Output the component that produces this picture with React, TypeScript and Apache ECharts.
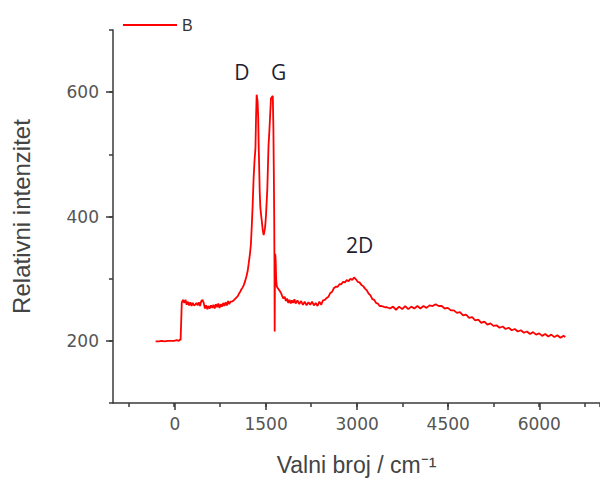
import React, { useEffect, useRef } from "react";
import * as echarts from "echarts";

// Raman spectrum
const wavenumber = [
  -300, -250, -200, -150, -100, -50, 0, 50, 80, 100, 110,
  120, 130, 150, 170, 190, 210, 230, 250, 270, 290, 310, 330, 350, 370, 390, 410, 430, 450, 470, 490,
  510, 530, 550, 570, 590, 610, 630, 650, 670, 690, 710, 730, 750, 770, 790, 810, 830, 850, 870, 890,
  910, 930, 950, 970, 990, 1010, 1030, 1050, 1070, 1090, 1110, 1130, 1150, 1170, 1190, 1210, 1230, 1250,
  1265, 1280, 1295, 1310, 1325, 1340, 1350, 1360, 1368, 1375, 1385, 1392, 1400, 1410, 1420, 1430, 1445,
  1460, 1475, 1485, 1495, 1505, 1515, 1525, 1535, 1545, 1555, 1565, 1580, 1595, 1610, 1625, 1635, 1642,
  1648, 1652, 1656, 1660, 1665, 1672, 1680, 1690, 1705, 1720, 1740, 1760, 1780, 1800, 1820, 1840, 1860,
  1880, 1900, 1920, 1940, 1960, 1980, 2000, 2030, 2060, 2090, 2120, 2150, 2180, 2210, 2240, 2270, 2300,
  2330, 2360, 2390, 2420, 2450, 2480, 2510, 2540, 2570, 2600, 2630, 2660, 2690, 2720, 2750, 2780, 2810,
  2840, 2870, 2900, 2930, 2960, 2990, 3020, 3050, 3080, 3110, 3140, 3170, 3200, 3230, 3260, 3290, 3320,
  3350, 3380, 3410, 3440, 3470, 3500, 3550, 3600, 3650, 3700, 3750, 3800, 3850, 3900, 3950, 4000, 4050,
  4100, 4150, 4200, 4250, 4300, 4350, 4400, 4450, 4500, 4550, 4600, 4650, 4700, 4750, 4800, 4850, 4900,
  4950, 5000, 5050, 5100, 5150, 5200, 5250, 5300, 5350, 5400, 5450, 5500, 5550, 5600, 5650, 5700, 5750,
  5800, 5850, 5900, 5950, 6000, 6050, 6100, 6150, 6200, 6250, 6300, 6350, 6400, 6430,
];
const intensity = [
  199, 199, 200, 199, 200, 200, 200, 201, 200, 202, 201,
  230, 262, 266, 261, 266, 258, 263, 257, 262, 256, 261, 257, 258, 261, 257, 262, 256, 264, 266, 261,
  252, 257, 251, 256, 252, 257, 253, 258, 252, 259, 254, 260, 253, 259, 255, 261, 256, 262, 257, 264,
  259, 263, 263, 264, 266, 268, 270, 272, 276, 279, 283, 286, 290, 296, 303, 311, 325, 340,
  355, 385, 420, 462, 490, 510, 560, 596, 590, 585, 560, 520, 485, 440, 415, 405, 392,
  378, 370, 375, 380, 390, 405, 425, 445, 480, 515, 530, 560, 590, 592, 594, 540, 470,
  400, 330, 215, 300, 340, 330, 300, 288, 285, 283, 280, 277, 272, 268, 271, 264, 268,
  261, 266, 260, 265, 261, 267, 260, 265, 259, 264, 258, 263, 257, 262, 258, 263, 257,
  261, 256, 263, 258, 265, 266, 269, 271, 277, 279, 285, 287, 287, 291, 291, 295, 294,
  298, 296, 300, 298, 302, 299, 295, 294, 290, 288, 284, 281, 276, 273, 267, 266, 261,
  260, 256, 256, 255, 254, 254, 252, 255, 250, 255, 251, 256, 251, 255, 252, 256, 252,
  256, 253, 257, 256, 259, 256, 256, 252, 253, 249, 249, 245, 246, 241, 242, 237, 238,
  233, 234, 229, 231, 226, 228, 224, 225, 221, 223, 219, 221, 217, 219, 215, 217, 213,
  215, 211, 214, 210, 212, 208, 211, 207, 210, 206, 209, 205, 208, 206,
];

const seriesName = "B";
const xTickLabels = [0, 1500, 3000, 4500, 6000];
const yTickLabels = [200, 400, 600];

const peakLabels = ["D", "G", "2D"];
const peakX = [1115, 1720, 3053];
const peakY = [633, 633, 354];

const axisColor = "#3a3a3a";
const labelColor = "#555555";

export default function App() {
  const ref = useRef<HTMLDivElement>(null);

  useEffect(() => {
    if (!ref.current) return;
    const chart = echarts.init(ref.current, null, { renderer: "svg" });
    const data = wavenumber.map((x, i) => [x, intensity[i]]);
    const hidden = { show: false, type: "value", min: 0, max: 1 };

    chart.setOption({
      animation: false,
      backgroundColor: "#ffffff",
      legend: {
        data: [{ name: seriesName, icon: "rect" }],
        left: 118,
        top: 12,
        itemWidth: 54,
        itemHeight: 2,
        itemGap: 6,
        textStyle: { fontSize: 16, color: "#333", fontFamily: "Liberation Sans" },
      },
      grid: [
        { left: 113, right: -9, top: 30, bottom: 80 },
        { left: 128.5, right: -9, top: 30, bottom: 80 },
        { left: 175, right: -9, top: 30, bottom: 80 },
        { left: 113, right: -9, top: 30, bottom: 142 },
      ],
      xAxis: [
        {
          gridIndex: 0,
          type: "value",
          min: -1000,
          max: 7000,
          axisLine: { show: true, onZero: false, lineStyle: { color: axisColor, width: 1.5 } },
          axisTick: { show: false },
          axisLabel: { show: false },
          splitLine: { show: false },
          name: "Valni broj / cm⁻¹",
          nameLocation: "middle",
          nameGap: 50,
          nameTextStyle: { fontSize: 23, color: "#444", fontFamily: "Liberation Sans" },
        },
        {
          gridIndex: 1,
          type: "value",
          min: -750,
          max: 7000,
          interval: 750,
          axisLine: { show: false, onZero: false },
          axisTick: { show: true, length: 4, lineStyle: { color: axisColor, width: 1.5 } },
          axisLabel: { show: false },
          splitLine: { show: false },
        },
        {
          gridIndex: 2,
          type: "value",
          min: 0,
          max: 7000,
          interval: 1500,
          axisLine: { show: false, onZero: false },
          axisTick: { show: true, length: 7, lineStyle: { color: axisColor, width: 1.5 } },
          axisLabel: {
            show: true,
            margin: 12,
            fontSize: 17,
            color: labelColor,
            fontFamily: "DejaVu Sans",
            showMaxLabel: false,
            formatter: (v: number) => (xTickLabels.includes(v) ? String(v) : ""),
          },
          splitLine: { show: false },
        },
        { ...hidden, gridIndex: 3 },
      ],
      yAxis: [
        {
          gridIndex: 0,
          type: "value",
          min: 100,
          max: 700,
          interval: 100,
          axisLine: { show: true, onZero: false, lineStyle: { color: axisColor, width: 1.5 } },
          axisTick: { show: true, length: 4, lineStyle: { color: axisColor, width: 1.5 } },
          axisLabel: { show: false },
          splitLine: { show: false },
          name: "Relativni intenzitet",
          nameLocation: "middle",
          nameGap: 80,
          nameRotate: 90,
          nameTextStyle: { fontSize: 24, color: "#444", fontFamily: "Liberation Sans" },
        },
        { ...hidden, gridIndex: 1 },
        { ...hidden, gridIndex: 2 },
        {
          gridIndex: 3,
          type: "value",
          min: 200,
          max: 700,
          interval: 200,
          axisLine: { show: false, onZero: false },
          axisTick: { show: true, length: 7, lineStyle: { color: axisColor, width: 1.5 } },
          axisLabel: {
            show: true,
            margin: 14,
            fontSize: 17,
            color: labelColor,
            fontFamily: "DejaVu Sans",
            showMaxLabel: false,
            formatter: (v: number) => (yTickLabels.includes(v) ? String(v) : ""),
          },
          splitLine: { show: false },
        },
      ],
      series: [
        {
          name: seriesName,
          type: "line",
          xAxisIndex: 0,
          yAxisIndex: 0,
          data,
          symbol: "none",
          color: "#ff0000",
          lineStyle: { color: "#ff0000", width: 1.8 },
          markPoint: {
            symbol: "circle",
            symbolSize: 0,
            data: peakLabels.map((name, i) => ({ name, coord: [peakX[i], peakY[i]] })),
            label: {
              show: true,
              position: "inside",
              formatter: "{b}",
              fontSize: 21,
              fontFamily: "Open Sans",
              color: "#1e1e30",
            },
          },
        },
      ],
    });

    return () => chart.dispose();
  }, []);

  return (
    <div
      ref={ref}
      style={{ position: "absolute", left: 0, top: 0, width: 600, height: 483 }}
    />
  );
}
